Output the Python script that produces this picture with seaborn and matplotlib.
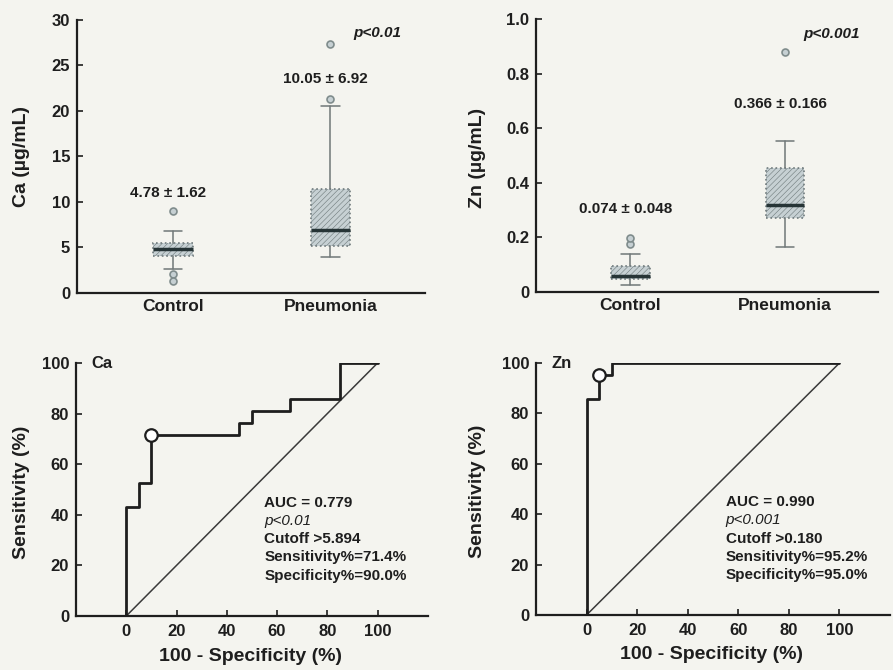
import numpy as np
import matplotlib
matplotlib.use("Agg")
import matplotlib.pyplot as plt
import seaborn as sns

# ---- data ----
groups = ["Control", "Pneumonia"]

ca_q1 = [4.1, 5.2]
ca_med = [4.85, 6.9]
ca_q3 = [5.5, 11.4]
ca_lo = [2.6, 3.9]
ca_hi = [6.85, 20.6]
ca_fliers = [[9.05, 2.1, 1.35], [21.3, 27.4]]
ca_means = ["4.78 \u00b1 1.62", "10.05 \u00b1 6.92"]

zn_q1 = [0.046, 0.272]
zn_med = [0.059, 0.319]
zn_q3 = [0.096, 0.455]
zn_lo = [0.026, 0.166]
zn_hi = [0.138, 0.554]
zn_fliers = [[0.175, 0.199], [0.878]]
zn_means = ["0.074 \u00b1 0.048", "0.366 \u00b1 0.166"]

ca_fpr = [0, 0, 5, 10, 45, 50, 65, 85, 100]
ca_tpr = [0, 42.9, 52.4, 71.4, 76.2, 81.0, 85.7, 100, 100]
ca_cut = (10, 71.4)
ca_info = ["AUC = 0.779", "p<0.01", "Cutoff >5.894", "Sensitivity%=71.4%", "Specificity%=90.0%"]

zn_fpr = [0, 0, 5, 10, 100]
zn_tpr = [0, 85.7, 95.2, 100, 100]
zn_cut = (5, 95.2)
zn_info = ["AUC = 0.990", "p<0.001", "Cutoff >0.180", "Sensitivity%=95.2%", "Specificity%=95.0%"]

sns.set_theme(style="ticks")
plt.rcParams["font.family"] = ["Liberation Sans", "DejaVu Sans"]
plt.rcParams["hatch.linewidth"] = 0.4
plt.rcParams["hatch.color"] = "#9aa6a8"

paper = "#f4f4ef"
ink = "#1e1e1e"
fig = plt.figure(figsize=(8.93, 6.7), dpi=100, facecolor=paper)

ax1 = fig.add_axes([0.0862, 0.5627, 0.3897, 0.4075])
ax2 = fig.add_axes([0.6002, 0.5642, 0.3830, 0.4075])
ax3 = fig.add_axes([0.0851, 0.0806, 0.3940, 0.3776])
ax4 = fig.add_axes([0.6002, 0.0821, 0.3964, 0.3760])


def style_axes(ax):
    ax.set_facecolor("none")
    for s in ["top", "right"]:
        ax.spines[s].set_visible(False)
    for s in ["left", "bottom"]:
        ax.spines[s].set_linewidth(1.6)
        ax.spines[s].set_color(ink)
    ax.tick_params(direction="in", length=4, width=1.2, colors=ink,
                   labelsize=12, pad=5)
    for lab in ax.get_xticklabels() + ax.get_yticklabels():
        lab.set_fontweight("bold")


def box_panel(ax, q1, med, q3, lo, hi, fliers, means, ylim, yticks, ylabels,
              ylabel, mean_y, pval, p_y):
    stats = []
    for i in range(len(groups)):
        stats.append(dict(q1=q1[i], med=med[i], q3=q3[i], whislo=lo[i],
                          whishi=hi[i], fliers=fliers[i], label=groups[i]))
    ax.bxp(stats, positions=[0, 1], widths=0.25, capwidths=0.12,
           patch_artist=True, showfliers=True,
           boxprops=dict(facecolor="#c6d0d3", edgecolor="#6f7a7c",
                         linestyle=":", linewidth=1.2, hatch="//////"),
           medianprops=dict(color="#263436", linewidth=2.5),
           whiskerprops=dict(color="#707878", linewidth=1.1),
           capprops=dict(color="#707878", linewidth=1.1),
           flierprops=dict(marker="o", markersize=5,
                           markerfacecolor="#c6d0d3",
                           markeredgecolor="#7f8c8c",
                           markeredgewidth=1.2))
    ax.set_xlim(-0.61, 1.6)
    ax.set_ylim(*ylim)
    ax.set_yticks(yticks)
    ax.set_yticklabels(ylabels)
    ax.set_xticks([0, 1])
    ax.set_xticklabels(groups)
    style_axes(ax)
    ax.tick_params(axis="x", length=0, labelsize=12.5, pad=4)
    ax.set_ylabel(ylabel, fontsize=14, fontweight="bold", color=ink)
    for i in range(len(groups)):
        ax.text(i - 0.03, mean_y[i], means[i], ha="center", va="center",
                fontsize=11, fontweight="bold", color=ink)
    ax.text(1.3, p_y, pval, ha="center", va="center", fontsize=11,
            fontweight="bold", style="italic", color=ink)


box_panel(ax1, ca_q1, ca_med, ca_q3, ca_lo, ca_hi, ca_fliers, ca_means,
          (0, 30), [0, 5, 10, 15, 20, 25, 30],
          ["0", "5", "10", "15", "20", "25", "30"],
          "Ca (\u00b5g/mL)", [11.0, 23.5], "p<0.01", 28.6)
ax1.yaxis.set_label_coords(-0.135, 0.5)
box_panel(ax2, zn_q1, zn_med, zn_q3, zn_lo, zn_hi, zn_fliers, zn_means,
          (0, 1.0), [0, 0.2, 0.4, 0.6, 0.8, 1.0],
          ["0", "0.2", "0.4", "0.6", "0.8", "1.0"],
          "Zn (\u00b5g/mL)", [0.304, 0.69], "p<0.001", 0.945)
ax2.yaxis.set_label_coords(-0.146, 0.49)


def roc_panel(ax, fpr, tpr, cut, info, name, ylab_x):
    ax.plot([0, 100], [0, 100], color="#3a3a3a", linewidth=1.1)
    sns.lineplot(x=fpr, y=tpr, ax=ax, estimator=None, sort=False,
                 drawstyle="steps-post", color=ink, linewidth=2.0)
    ax.plot([cut[0]], [cut[1]], marker="o", markersize=9, markerfacecolor="white",
            markeredgecolor=ink, markeredgewidth=1.6, clip_on=False, zorder=5)
    ax.set_xlim(-20, 120)
    ax.set_ylim(0, 100)
    ax.set_xticks([0, 20, 40, 60, 80, 100])
    ax.set_yticks([0, 20, 40, 60, 80, 100])
    style_axes(ax)
    ax.tick_params(axis="x", pad=6)
    ax.set_xlabel("100 - Specificity (%)", fontsize=14, fontweight="bold", color=ink)
    ax.set_ylabel("Sensitivity (%)", fontsize=14, fontweight="bold", color=ink)
    ax.xaxis.set_label_coords(0.495, -0.125)
    ax.yaxis.set_label_coords(ylab_x, 0.49)
    ax.text(-14, 100, name, ha="left", va="center", fontsize=12,
            fontweight="bold", color=ink)
    y = 47.5
    for k, line in enumerate(info):
        ax.text(55, y, line, ha="left", va="top", fontsize=11,
                fontweight="normal" if k == 1 else "bold",
                style="italic" if k == 1 else "normal", color=ink)
        y -= 7.2


roc_panel(ax3, ca_fpr, ca_tpr, ca_cut, ca_info, "Ca", -0.131)
roc_panel(ax4, zn_fpr, zn_tpr, zn_cut, zn_info, "Zn", -0.141)

fig.savefig("out.png", dpi=100, facecolor=paper)
